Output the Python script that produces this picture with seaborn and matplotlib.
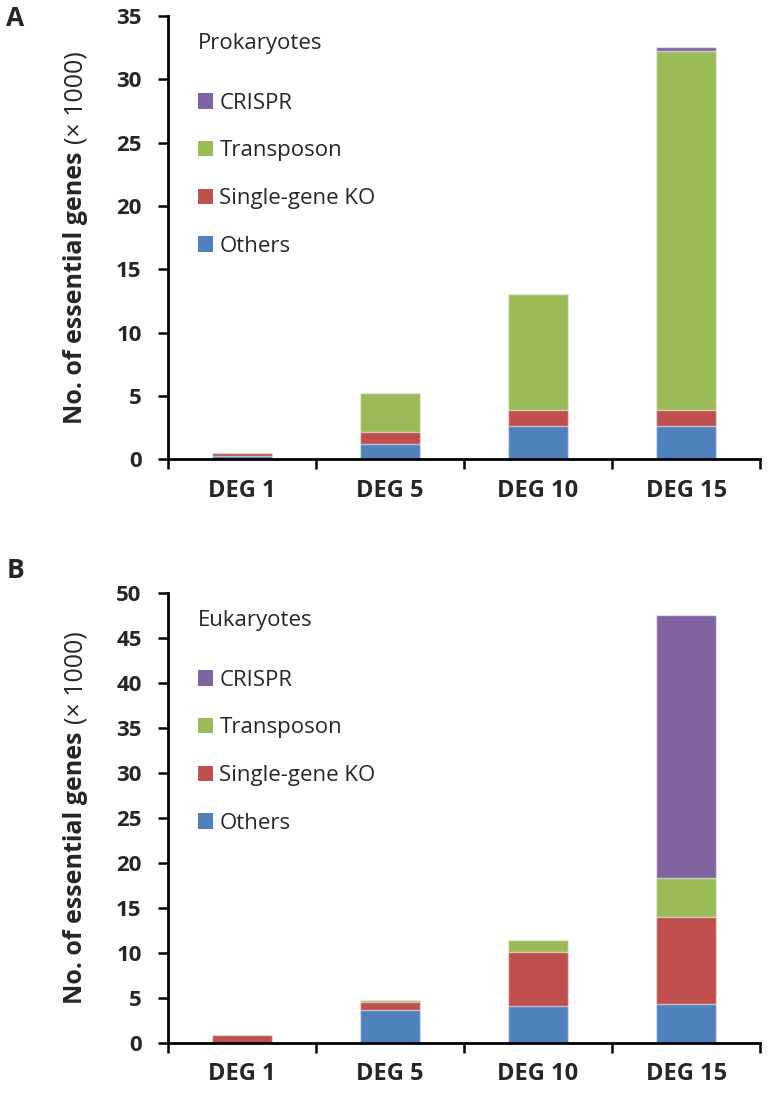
import matplotlib
matplotlib.use('Agg')
import matplotlib.pyplot as plt
from matplotlib.patches import Patch
import numpy as np
import seaborn as sns

# valores (x 1000)
cats = ['DEG 1', 'DEG 5', 'DEG 10', 'DEG 15']
series = ['Others', 'Single-gene KO', 'Transposon', 'CRISPR']

pro_others = [0.28, 1.18, 2.63, 2.63]
pro_ko = [0.22, 1.00, 1.27, 1.27]
pro_tn = [0.0, 3.03, 9.17, 28.30]
pro_crispr = [0.0, 0.0, 0.0, 0.35]

euk_others = [0.0, 3.60, 4.10, 4.30]
euk_ko = [0.85, 0.90, 6.00, 9.70]
euk_tn = [0.0, 0.25, 1.30, 4.30]
euk_crispr = [0.0, 0.0, 0.0, 29.20]

cores = ['#4F81BD', '#C0504D', '#9BBB59', '#8064A2']

sns.set_style('ticks')
plt.rcParams['font.family'] = ['Open Sans', 'DejaVu Sans']

fig = plt.figure(figsize=(7.79, 10.97), dpi=100)
axA = fig.add_axes([0.2157, 0.5813, 0.760, 0.4041])
axB = fig.add_axes([0.2157, 0.0495, 0.760, 0.4102])


def painel(ax, dados, titulo, ymax):
    acum = np.cumsum(np.array(dados), axis=0)
    # desenha do topo para a base (barras empilhadas sobrepostas)
    for i in range(len(dados) - 1, -1, -1):
        sns.barplot(x=cats, y=acum[i], color=cores[i], saturation=1, width=0.4,
                    edgecolor=(1, 1, 1, 0.55), linewidth=1.0, ax=ax)
    ax.set_xlim(-0.5, 3.5)
    ax.set_ylim(0, ymax)
    ax.set_yticks(np.arange(0, ymax + 1, 5))
    ax.set_xticks([-0.5, 0.5, 1.5, 2.5, 3.5], minor=True)
    ax.tick_params(axis='x', which='major', length=0, pad=14, labelsize=17)
    ax.tick_params(axis='x', which='minor', length=7, width=1.8, direction='out', color='black')
    ax.tick_params(axis='y', length=7, width=1.8, pad=12, labelsize=16, color='black')
    for lab in ax.get_xticklabels() + ax.get_yticklabels():
        lab.set_fontweight('bold')
    sns.despine(ax=ax)
    for s in ['left', 'bottom']:
        ax.spines[s].set_linewidth(2.0)
        ax.spines[s].set_color('black')
    ax.set_xlabel('')
    ax.set_ylabel('')
    handles = [Patch(facecolor=cores[i], edgecolor='none') for i in range(3, -1, -1)]
    labels = [series[i] for i in range(3, -1, -1)]
    leg = ax.legend(handles, labels, title=titulo, loc='upper left',
                    bbox_to_anchor=(0.05, 0.962), borderaxespad=0, borderpad=0,
                    frameon=False, fontsize=16, title_fontsize=16,
                    handlelength=0.68, handleheight=0.68, handletextpad=0.3,
                    labelspacing=1.2, alignment='left')
    leg._legend_box.sep = 28


painel(axA, [pro_others, pro_ko, pro_tn, pro_crispr], 'Prokaryotes', 35)
painel(axB, [euk_others, euk_ko, euk_tn, euk_crispr], 'Eukaryotes', 50)

fig.text(0.008, 0.983, 'A', fontsize=19, fontweight='bold', va='center')
fig.text(0.008, 0.4795, 'B', fontsize=19, fontweight='bold', va='center')

# rotulo do eixo y: parte em negrito + parte normal
fig.canvas.draw()
H = fig.get_figheight() * fig.dpi
for ax in [axA, axB]:
    pos = ax.get_position()
    centro = (pos.y0 + pos.y1) / 2 * H
    t1 = fig.text(0.097, 0, 'No. of essential genes', rotation=90, rotation_mode='anchor',
                  ha='left', va='center', fontsize=18, fontweight='bold')
    t2 = fig.text(0.097, 0, '(\u00d7 1000)', rotation=90, rotation_mode='anchor',
                  ha='left', va='center', fontsize=18)
    fig.canvas.draw()
    h1 = t1.get_window_extent().height
    h2 = t2.get_window_extent().height
    gap = 7
    base = centro - (h1 + h2 + gap) / 2
    t1.set_y(base / H)
    t2.set_y((base + h1 + gap) / H)

fig.savefig('out.png', dpi=100)
